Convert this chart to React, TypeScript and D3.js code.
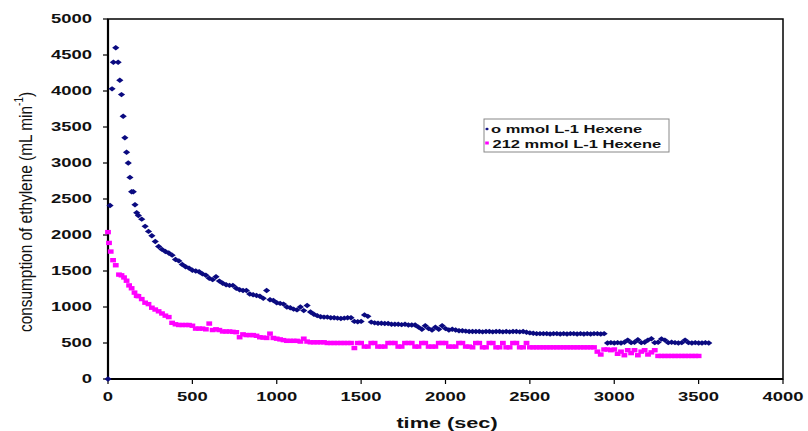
import React from "react";
import * as d3 from "d3";

// ---- data ----
const xTicks = [0, 500, 1000, 1500, 2000, 2500, 3000, 3500, 4000];
const yTicks = [0, 500, 1000, 1500, 2000, 2500, 3000, 3500, 4000, 4500, 5000];

const seriesNames = ["o mmol L-1 Hexene", "212 mmol L-1 Hexene"];

// blue series: irregular early samples
const blueEarlyTime = [0, 12, 24, 32, 46, 60, 70, 80, 90, 100, 110, 120, 130, 140, 150, 160, 170];
const blueEarlyValue = [0, 2410, 4030, 4400, 4600, 4400, 4150, 3950, 3650, 3350, 3150, 3000, 2800, 2600, 2600, 2420, 2310];
// blue series: 20 s samples from 180 s
const blueGridStart = 180;
const blueGridStep = 20;
const blueGridValue = [
  2270, 2220, 2120, 2050, 1990, 1910, 1840, 1800, 1770, 1750,
  1720, 1660, 1640, 1590, 1560, 1540, 1510, 1500, 1490, 1460,
  1440, 1400, 1380, 1420, 1360, 1330, 1310, 1300, 1300, 1260,
  1240, 1230, 1230, 1180, 1170, 1160, 1150, 1120, 1230, 1100,
  1090, 1060, 1050, 1040, 1000, 990, 970, 960, 1000, 950,
  1020, 930, 900, 880, 865, 860, 860, 850, 850, 845,
  840, 845, 850, 850, 800, 795, 800, 890, 870, 790,
  780, 775, 775, 770, 770, 760, 760, 760, 755, 760,
  750, 750, 750, 720, 690, 740, 700, 680, 720, 690,
  740, 700, 680, 690, 680, 670, 670, 665, 660, 660,
  660, 660, 655, 660, 660, 655, 660, 660, 655, 660,
  655, 660, 660, 655, 660, 650, 640, 635, 630, 630,
  630, 630, 625, 630, 630, 625, 630, 625, 630, 630,
  625, 630, 625, 630, 625, 630, 630, 625, 630, 500,
  505, 500, 505, 500, 510, 540, 505, 510, 545, 505,
  510, 540, 560, 505, 510, 555, 540, 505, 510, 505,
  500, 505, 540, 505, 500, 505, 500, 500, 505, 500,
];

// magenta series
const magentaEarlyTime = [0, 6, 16, 30, 46, 65, 80, 95, 110, 125, 140, 157, 170];
const magentaEarlyValue = [2040, 1890, 1770, 1650, 1580, 1450, 1440, 1410, 1365, 1300, 1260, 1200, 1155];
const magentaGridStart = 180;
const magentaGridStep = 20;
const magentaGridValue = [
  1150, 1110, 1060, 1040, 990, 965, 940, 910, 880, 860,
  780, 760, 750, 750, 750, 750, 740, 700, 700, 700,
  690, 770, 680, 690, 680, 660, 660, 660, 655, 650,
  580, 620, 610, 610, 610, 600, 580, 575, 570, 630,
  570, 560, 550, 540, 530, 530, 530, 530, 520, 560,
  520, 510, 510, 510, 510, 510, 500, 500, 500, 500,
  500, 500, 500, 500, 430, 500, 500, 450, 450, 500,
  500, 450, 450, 450, 500, 500, 500, 450, 450, 500,
  500, 500, 450, 450, 500, 500, 450, 450, 450, 500,
  500, 500, 450, 450, 450, 500, 500, 450, 450, 440,
  500, 500, 440, 440, 500, 500, 440, 440, 500, 440,
  440, 500, 500, 440, 440, 500, 440, 440, 440, 440,
  440, 440, 440, 440, 440, 440, 440, 440, 440, 440,
  440, 440, 440, 440, 440, 440, 380, 340, 410, 410,
  400, 410, 350, 380, 330, 400, 360, 400, 330, 380,
  400, 340, 370, 400, 320, 320, 320, 320, 320, 320,
  320, 320, 320, 320, 320, 320, 320,
];

type P = { t: number; v: number };
function build(et: number[], ev: number[], start: number, step: number, gv: number[]): P[] {
  const pts: P[] = et.map((t, i) => ({ t, v: ev[i] }));
  gv.forEach((v, i) => pts.push({ t: start + i * step, v }));
  return pts;
}

const blue = build(blueEarlyTime, blueEarlyValue, blueGridStart, blueGridStep, blueGridValue);
const magenta = build(magentaEarlyTime, magentaEarlyValue, magentaGridStart, magentaGridStep, magentaGridValue);

const W = 808;
const H = 431;
const L = 108, R = 783, T = 19, B = 379;
const FONT = "'Liberation Sans', Arial, sans-serif";
const SX = 1.5;
const BLUE = "#0a0a80";
const MAG = "#ff00ff";

export default function App() {
  const x = d3.scaleLinear().domain([0, 4000]).range([L, R]);
  const y = d3.scaleLinear().domain([0, 5000]).range([B, T]);
  const diamond = "M0,-2.7L3.6,0L0,2.7L-3.6,0Z";
  const square = "M-2.9,-2.2H2.9V2.2H-2.9Z";

  return (
    <svg
      width={W}
      height={H}
      style={{ position: "absolute", left: 0, top: 0, background: "#fff" }}
      fontFamily={FONT}
    >
      <rect x={0} y={0} width={W} height={H} fill="#fff" />
      {/* frame */}
      <rect x={L} y={T} width={R - L} height={B - T} fill="none" stroke="#000" strokeWidth={1.5} />
      <line x1={L} x2={L} y1={T} y2={B + 1} stroke="#000" strokeWidth={2.2} />
      <line x1={L - 1} x2={R} y1={B} y2={B} stroke="#000" strokeWidth={2.2} />

      {/* y ticks */}
      {yTicks.map((t) => (
        <g key={"y" + t}>
          <line x1={L - 5} x2={L} y1={y(t)} y2={y(t)} stroke="#000" strokeWidth={1.2} />
          <text
            transform={`translate(${L - 16},${y(t) + 4.3}) scale(${SX},1)`}
            textAnchor="end"
            fontSize={12.3}
            fontWeight="bold"
            fill="#111"
          >
            {t}
          </text>
        </g>
      ))}
      {/* x ticks */}
      {xTicks.map((t) => (
        <g key={"x" + t}>
          <line x1={x(t)} x2={x(t)} y1={B} y2={B + 5} stroke="#000" strokeWidth={1.2} />
          <text
            transform={`translate(${x(t)},${B + 22}) scale(${SX},1)`}
            textAnchor="middle"
            fontSize={12.3}
            fontWeight="bold"
            fill="#111"
          >
            {t}
          </text>
        </g>
      ))}

      {/* axis titles */}
      <text
        transform={`translate(447,428) scale(1.55,1)`}
        textAnchor="middle"
        fontSize={14}
        fontWeight="bold"
        fill="#111"
      >
        time (sec)
      </text>
      <text
        transform={`translate(32,212) rotate(-90) scale(1,1.25)`}
        textAnchor="middle"
        fontSize={15.4}
        fill="#111"
      >
        consumption of ethylene (mL min
        <tspan fontSize={10} dy={-7}>-1</tspan>
        <tspan dy={7}>)</tspan>
      </text>

      {/* data */}
      <g fill={BLUE}>
        {blue.map((p, i) => (
          <path key={"b" + i} d={diamond} transform={`translate(${x(p.t)},${y(p.v)})`} />
        ))}
      </g>
      <g fill={MAG}>
        {magenta.map((p, i) => (
          <path key={"m" + i} d={square} transform={`translate(${x(p.t)},${y(p.v)})`} />
        ))}
      </g>

      {/* legend */}
      <rect x={484} y={119} width={185} height={33} fill="#fff" stroke="#888" strokeWidth={1} />
      <path d="M0,-1.6L2,0L0,1.6L-2,0Z" fill={BLUE} transform="translate(487,129)" />
      <text transform="translate(491,133) scale(1.5,1)" fontSize={11} fontWeight="bold" fill="#111">
        {seriesNames[0]}
      </text>
      <path d="M-1.8,-1.5H1.8V1.5H-1.8Z" fill={MAG} transform="translate(487,143)" />
      <text transform="translate(492.5,147.5) scale(1.5,1)" fontSize={11} fontWeight="bold" fill="#111">
        {seriesNames[1]}
      </text>
    </svg>
  );
}
